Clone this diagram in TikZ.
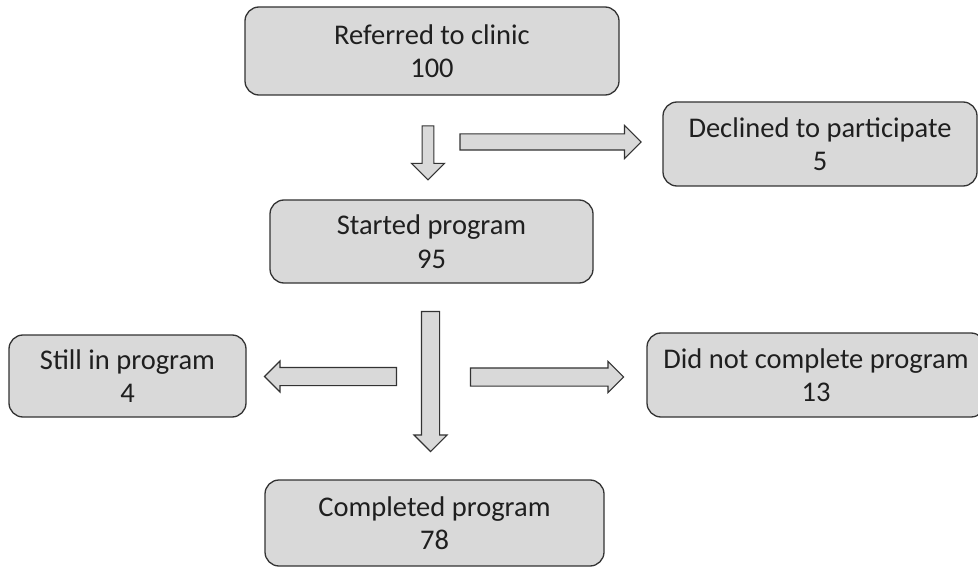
\documentclass[tikz,border=0pt]{standalone}
\usepackage{fontspec}
\setmainfont{Carlito}
\usepackage{tikz}
\usetikzlibrary{shapes.arrows}
\definecolor{boxfill}{HTML}{D9D9D9}
\definecolor{boxline}{HTML}{333333}
\tikzset{every node/.append style={font=\fontsize{28.5}{33.5}\selectfont}}
\tikzset{
  stagebox/.style={draw=boxline, line width=1.3pt, fill=boxfill, rounded corners=14pt,
    align=center, inner sep=0pt, text=black!88},
  flowarrow/.style={single arrow, draw=boxline, line width=1.1pt, fill=boxfill,
    inner xsep=0pt, outer sep=0pt, single arrow tip angle=90, single arrow head indent=0pt}
}
\begin{document}
\begin{tikzpicture}[x=1pt, y=-1pt]
    \useasboundingbox (0,0) rectangle (978,567);
    \clip (0,0) rectangle (978,567);
    % boxes
    \node[stagebox, minimum width=374pt, minimum height=88pt] (referred) at (432,51) {Referred to clinic\\100};
    \node[stagebox, minimum width=314pt, minimum height=84pt] (declined) at (820,144) {Declined to participate\\5};
    \node[stagebox, minimum width=323pt, minimum height=83pt] (started) at (431.5,241.5) {Started program\\95};
    \node[stagebox, minimum width=237pt, minimum height=82pt] (still) at (127.5,376) {Still in program\\4};
    \node[stagebox, minimum width=338pt, minimum height=84pt] (dropped) at (816,375) {Did not complete program\\13};
    \node[stagebox, minimum width=339pt, minimum height=86pt] (completed) at (434.5,523) {Completed program\\78};
    % block arrows
    \node[flowarrow, rotate=-90, minimum height=54pt, minimum width=32pt, inner ysep=5.3pt, single arrow head extend=10.7pt] (toStarted) at (428,150) {};
    \node[flowarrow, minimum height=181pt, minimum width=32pt, inner ysep=7.5pt, single arrow head extend=8.5pt] (toDeclined) at (546.5,142) {};
    \node[flowarrow, rotate=-90, minimum height=140pt, minimum width=32pt, inner ysep=8.5pt, single arrow head extend=7.5pt] (toCompleted) at (430.5,377) {};
    \node[flowarrow, rotate=180, minimum height=132pt, minimum width=30pt, inner ysep=8.5pt, single arrow head extend=6.5pt] (toStill) at (335,376.5) {};
    \node[flowarrow, minimum height=153pt, minimum width=30pt, inner ysep=8.5pt, single arrow head extend=6.5pt] (toDropped) at (542.5,377) {};
\end{tikzpicture}
\end{document}
